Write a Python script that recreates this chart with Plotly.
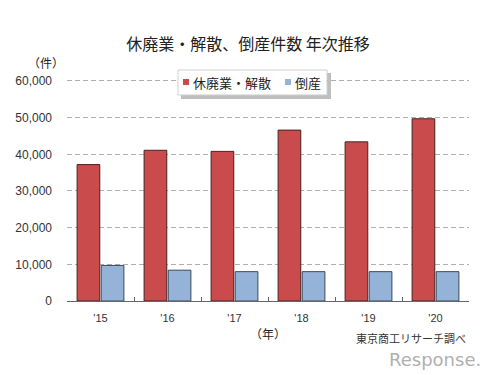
import plotly.graph_objects as go

years = ["'15", "'16", "'17", "'18", "'19", "'20"]
closures = [37200, 41100, 40800, 46600, 43400, 49700]
bankruptcies = [9700, 8400, 8000, 8000, 8000, 8000]
ytick_vals = [0, 10000, 20000, 30000, 40000, 50000, 60000]
ytick_text = ["0", "10,000", "20,000", "30,000", "40,000", "50,000", "60,000"]
names = ["休廃業・解散", "倒産"]
colors = ["#c94b4b", "#95b3d9"]

JP = "Noto Sans CJK JP"
NUM = "Liberation Sans, Arial"

W, H = 500, 375
L, R, T, B = 67, 31, 70, 73.5
pw, ph = W - L - R, H - T - B
# pixel of value 0 at 301.5, value 60000 at 81
ytop = 60000 * (H - B - T) / (H - B - 81)


def px(x):
    return (x - L) / pw


def py(y):
    return (H - B - y) / ph


def rect(x0, y0, x1, y1, fill, line=None, opacity=1.0):
    return dict(type="rect", xref="paper", yref="paper",
                x0=px(x0), x1=px(x1), y0=py(y1), y1=py(y0),
                fillcolor=fill, opacity=opacity, layer="above",
                line=dict(width=1, color=line) if line else dict(width=0))


def note(text, x, y, size=12, color="#222", family=JP, xanchor="center"):
    return dict(text=text, x=px(x), y=py(y), xref="paper", yref="paper",
                showarrow=False, xanchor=xanchor, yanchor="middle",
                font=dict(family=family, size=size, color=color))


fig = go.Figure()
fig.add_trace(go.Bar(x=years, y=closures, name=names[0],
                     marker=dict(color=colors[0], line=dict(color="#4a2020", width=1))))
fig.add_trace(go.Bar(x=years, y=bankruptcies, name=names[1],
                     marker=dict(color=colors[1], line=dict(color="#3a4a5c", width=1))))

fig.update_layout(
    width=W, height=H,
    margin=dict(l=L, r=R, t=T, b=B),
    paper_bgcolor="white", plot_bgcolor="white",
    barmode="group", bargap=0.28, bargroupgap=0.06,
    showlegend=False,
    title=dict(text="休廃業・解散、倒産件数 年次推移", x=248 / W, xanchor="center",
               y=1 - 44 / H, yanchor="middle",
               font=dict(family=JP, size=16, color="#222")),
    xaxis=dict(showline=True, linecolor="#666", linewidth=1, automargin=False,
               ticks="inside", ticklen=4, tickcolor="#666", tickson="boundaries",
               ticklabelstandoff=7,
               tickfont=dict(family=NUM, size=11, color="#333"), showgrid=False),
    yaxis=dict(range=[0, ytop], tickvals=ytick_vals, ticktext=ytick_text, automargin=False,
               showgrid=True, gridcolor="#b0b0b0", griddash="5px,3px", gridwidth=1,
               zeroline=False, showline=False, ticks="", ticklabelstandoff=14,
               tickfont=dict(family=NUM, size=12, color="#333")),
    shapes=[
        rect(181, 73, 331, 99, "#8a8a8a", opacity=0.55),
        rect(178, 70, 327, 95, "white", line="#d0d0d0"),
        rect(183, 79, 189, 85, colors[0]),
        rect(285, 79, 291, 85, colors[1]),
    ],
    annotations=[
        note(names[0], 191, 82.5, size=13, xanchor="left"),
        note(names[1], 293, 82.5, size=13, xanchor="left"),
        note("（件）", 46, 62),
        note("（年）", 268, 334),
        note("東京商工リサーチ調べ", 411, 339, size=11, color="#333"),
        note("Response.", 435, 360, size=18, color="#b0b0b0", family="DejaVu Sans"),
    ],
)

fig.write_html("out.html", config={"displayModeBar": False},
               post_script="document.body.style.margin='0';")
